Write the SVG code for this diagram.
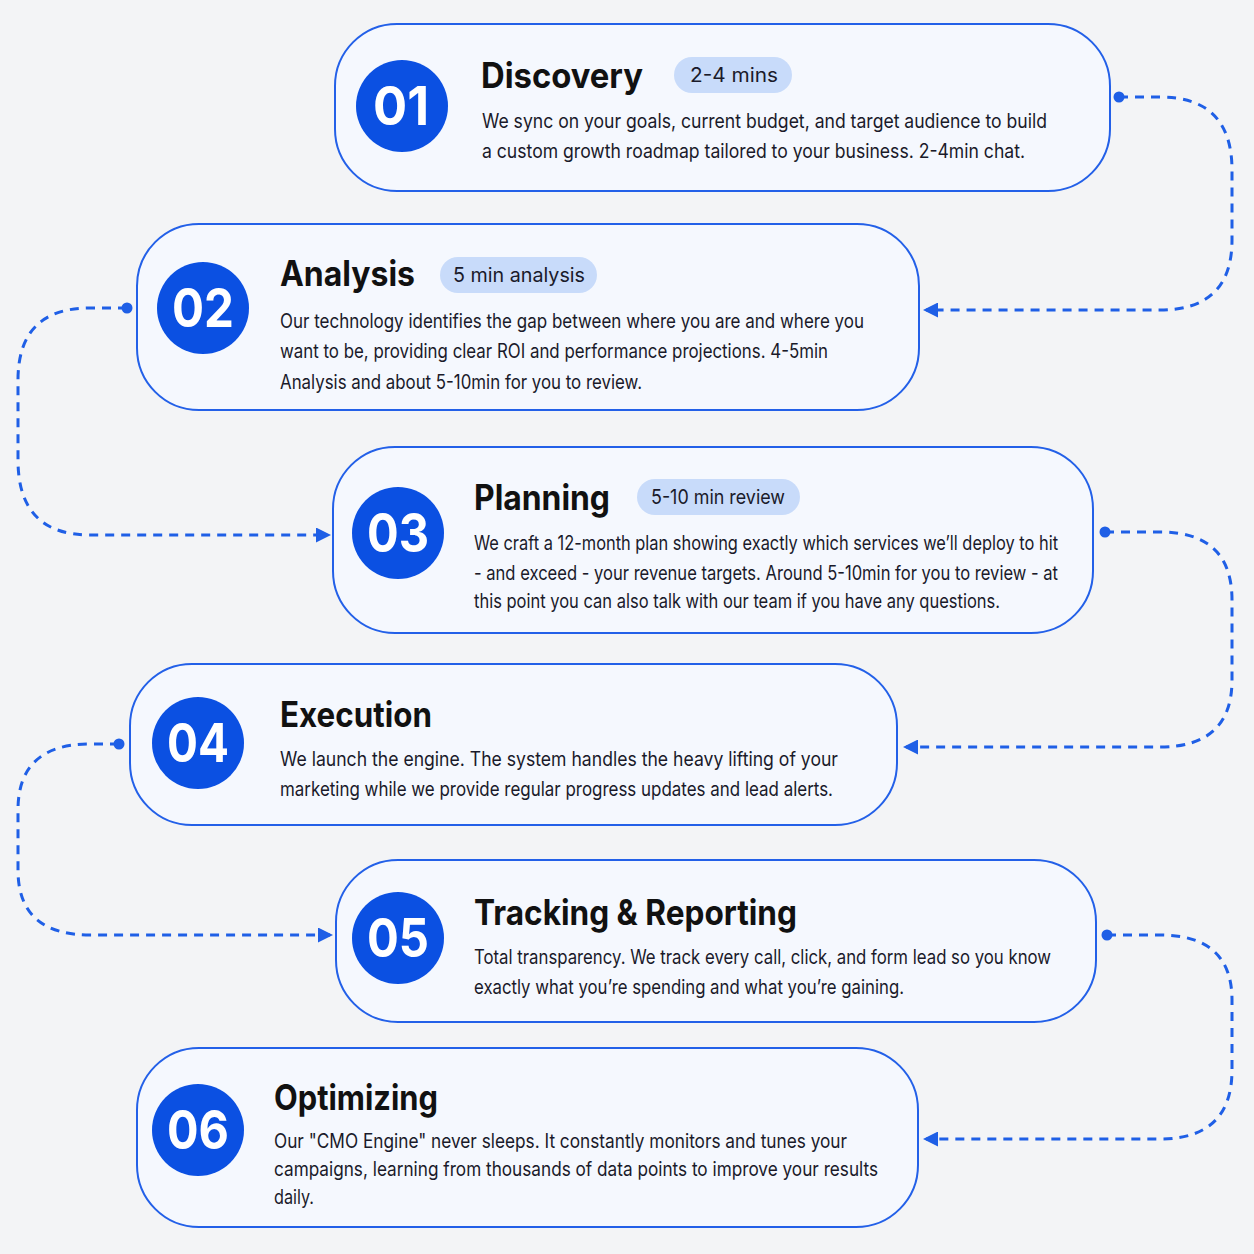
<svg xmlns="http://www.w3.org/2000/svg" width="1254" height="1254" viewBox="0 0 1254 1254">
<style>
.card{fill:#f5f8fe;stroke:#2360e8;stroke-width:2}
.num{fill:#0b50e2}
.numt{font-family:Inter,"Liberation Sans",sans-serif;font-weight:700;font-size:54px;fill:#fff;text-anchor:middle}
.title{font-family:Inter,"Liberation Sans",sans-serif;font-weight:700;font-size:35px;fill:#111}
.pill{fill:#c8dbfa}
.pillt{font-family:Inter,"Liberation Sans",sans-serif;font-size:20px;fill:#1a1a2a}
.body{font-family:Inter,"Liberation Sans",sans-serif;font-size:19.5px;fill:#1a1a2a}
.conn{fill:none;stroke:#1f5fe6;stroke-width:3;stroke-dasharray:9 7}
.dot{fill:#1f5fe6}
</style>
<defs><marker id="ah" viewBox="0 0 10 10" refX="8" refY="5" markerWidth="5" markerHeight="5" orient="auto"><path d="M0 0L10 5L0 10z" fill="#1f5fe6"/></marker></defs>
<rect width="1254" height="1254" fill="#f3f4f6"/>
<g id="connectors">
<path class="conn" d="M1119 97H1160Q1232 97 1232 170V240Q1232 310 1160 310H926" marker-end="url(#ah)"/><circle class="dot" cx="1119" cy="97" r="5.5"/>
<path class="conn" d="M127 308H90Q18 308 18 380V460Q18 535 90 535H328" marker-end="url(#ah)"/><circle class="dot" cx="127" cy="308" r="5.5"/>
<path class="conn" d="M1105 532H1160Q1232 532 1232 600V680Q1232 747 1160 747H906" marker-end="url(#ah)"/><circle class="dot" cx="1105" cy="532" r="5.5"/>
<path class="conn" d="M119 744H90Q18 744 18 810V870Q18 935 90 935H330" marker-end="url(#ah)"/><circle class="dot" cx="119" cy="744" r="5.5"/>
<path class="conn" d="M1107 935H1160Q1232 935 1232 1000V1070Q1232 1139 1160 1139H926" marker-end="url(#ah)"/><circle class="dot" cx="1107" cy="935" r="5.5"/>
</g>
<g id="n1"><rect class="card" x="335" y="24" width="775" height="167" rx="62"/><circle class="num" cx="402" cy="106" r="46"/><text class="numt" x="401" y="125" textLength="56" lengthAdjust="spacingAndGlyphs">01</text>
<text class="title" x="481" y="88" textLength="162" lengthAdjust="spacingAndGlyphs">Discovery</text><rect class="pill" x="674" y="57" width="118" height="36" rx="18"/><text class="pillt" x="690" y="82" textLength="88" lengthAdjust="spacingAndGlyphs">2-4 mins</text>
<text class="body" x="482" y="128" textLength="565" lengthAdjust="spacingAndGlyphs">We sync on your goals, current budget, and target audience to build</text><text class="body" x="482" y="158" textLength="543" lengthAdjust="spacingAndGlyphs">a custom growth roadmap tailored to your business. 2-4min chat.</text></g>
<g id="n2"><rect class="card" x="137" y="224" width="782" height="186" rx="62"/><circle class="num" cx="203" cy="308" r="46"/><text class="numt" x="203" y="327" textLength="62" lengthAdjust="spacingAndGlyphs">02</text>
<text class="title" x="280" y="286" textLength="135" lengthAdjust="spacingAndGlyphs">Analysis</text><rect class="pill" x="440" y="257" width="157" height="36" rx="18"/><text class="pillt" x="453" y="282" textLength="132" lengthAdjust="spacingAndGlyphs">5 min analysis</text>
<text class="body" x="280" y="328" textLength="584" lengthAdjust="spacingAndGlyphs">Our technology identifies the gap between where you are and where you</text><text class="body" x="280" y="358" textLength="548" lengthAdjust="spacingAndGlyphs">want to be, providing clear ROI and performance projections. 4-5min</text><text class="body" x="280" y="389" textLength="362" lengthAdjust="spacingAndGlyphs">Analysis and about 5-10min for you to review.</text></g>
<g id="n3"><rect class="card" x="333" y="447" width="760" height="186" rx="62"/><circle class="num" cx="398" cy="533" r="46"/><text class="numt" x="398" y="552" textLength="62" lengthAdjust="spacingAndGlyphs">03</text>
<text class="title" x="474" y="510" textLength="136" lengthAdjust="spacingAndGlyphs">Planning</text><rect class="pill" x="637" y="479" width="163" height="36" rx="18"/><text class="pillt" x="651" y="504" textLength="134" lengthAdjust="spacingAndGlyphs">5-10 min review</text>
<text class="body" x="474" y="550" textLength="584" lengthAdjust="spacingAndGlyphs">We craft a 12-month plan showing exactly which services we’ll deploy to hit</text><text class="body" x="474" y="580" textLength="584" lengthAdjust="spacingAndGlyphs">- and exceed - your revenue targets. Around 5-10min for you to review - at</text><text class="body" x="474" y="608" textLength="526" lengthAdjust="spacingAndGlyphs">this point you can also talk with our team if you have any questions.</text></g>
<g id="n4"><rect class="card" x="130" y="664" width="767" height="161" rx="62"/><circle class="num" cx="198" cy="743" r="46"/><text class="numt" x="198" y="762" textLength="62" lengthAdjust="spacingAndGlyphs">04</text>
<text class="title" x="280" y="727" textLength="152" lengthAdjust="spacingAndGlyphs">Execution</text>
<text class="body" x="280" y="766" textLength="558" lengthAdjust="spacingAndGlyphs">We launch the engine. The system handles the heavy lifting of your</text><text class="body" x="280" y="796" textLength="553" lengthAdjust="spacingAndGlyphs">marketing while we provide regular progress updates and lead alerts.</text></g>
<g id="n5"><rect class="card" x="336" y="860" width="760" height="162" rx="62"/><circle class="num" cx="398" cy="938" r="46"/><text class="numt" x="398" y="957" textLength="62" lengthAdjust="spacingAndGlyphs">05</text>
<text class="title" x="474" y="925" textLength="323" lengthAdjust="spacingAndGlyphs">Tracking &amp; Reporting</text>
<text class="body" x="474" y="964" textLength="577" lengthAdjust="spacingAndGlyphs">Total transparency. We track every call, click, and form lead so you know</text><text class="body" x="474" y="994" textLength="430" lengthAdjust="spacingAndGlyphs">exactly what you’re spending and what you’re gaining.</text></g>
<g id="n6"><rect class="card" x="137" y="1048" width="781" height="179" rx="62"/><circle class="num" cx="198" cy="1130" r="46"/><text class="numt" x="198" y="1149" textLength="62" lengthAdjust="spacingAndGlyphs">06</text>
<text class="title" x="274" y="1110" textLength="164" lengthAdjust="spacingAndGlyphs">Optimizing</text>
<text class="body" x="274" y="1148" textLength="573" lengthAdjust="spacingAndGlyphs">Our "CMO Engine" never sleeps. It constantly monitors and tunes your</text><text class="body" x="274" y="1176" textLength="604" lengthAdjust="spacingAndGlyphs">campaigns, learning from thousands of data points to improve your results</text><text class="body" x="274" y="1204" textLength="40" lengthAdjust="spacingAndGlyphs">daily.</text></g>
</svg>
